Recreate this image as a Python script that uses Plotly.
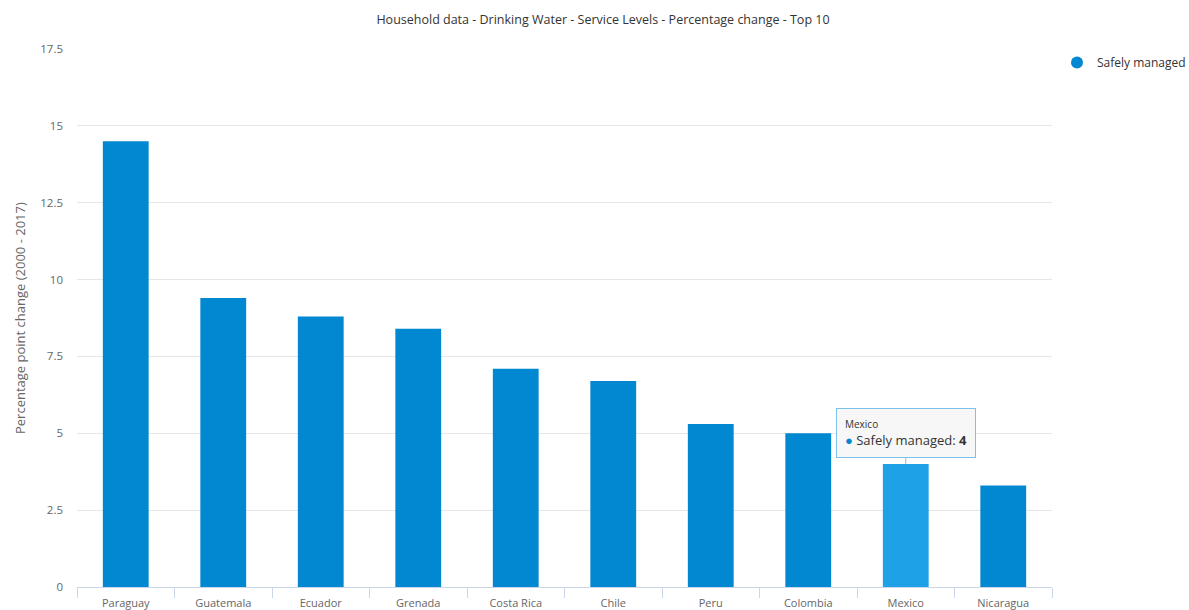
import plotly.graph_objects as go

countries = ["Paraguay", "Guatemala", "Ecuador", "Grenada", "Costa Rica",
             "Chile", "Peru", "Colombia", "Mexico", "Nicaragua"]
safely_managed = [14.5, 9.4, 8.8, 8.4, 7.1, 6.7, 5.3, 5.0, 4, 3.3]
y_ticks = [0, 2.5, 5, 7.5, 10, 12.5, 15, 17.5]
y_tick_labels = ["0", "2.5", "5", "7.5", "10", "12.5", "15", "17.5"]
y_title = "Percentage point change (2000 - 2017)"
highlight = "Mexico"

base_color = "#0288d1"
hover_color = "#1fa1e8"
bar_colors = [hover_color if c == highlight else base_color for c in countries]

FONT = "Open Sans, Noto Sans, sans-serif"
MARGIN_L, MARGIN_R = 77, 137
WIDTH = 1189
plot_w = WIDTH - MARGIN_L - MARGIN_R

fig = go.Figure()
fig.add_trace(go.Bar(
    x=countries, y=safely_managed, name="Safely managed",
    marker=dict(color=bar_colors, line=dict(width=0)),
    showlegend=False,
))
# legend entry with a round marker
fig.add_trace(go.Scatter(
    x=[None], y=[None], mode="markers", name="Safely managed",
    marker=dict(symbol="circle", size=12, color=base_color),
))

# hover-style tooltip on the highlighted bar
hi = countries.index(highlight)
fig.add_annotation(
    x=countries[hi], y=safely_managed[hi], xref="x", yref="y",
    text=("<span style='font-size:10px;color:#333'>Mexico</span><br>"
          f"<span style='color:{base_color}'>●</span> Safely managed: <b>{safely_managed[hi]:g}</b>"),
    showarrow=True, arrowhead=0, arrowwidth=1, arrowcolor="#7cc2ea",
    ax=0, ay=-6, yanchor="bottom", xanchor="center",
    align="left", bgcolor="rgba(247,247,247,0.95)", bordercolor="#7cc2ea",
    borderwidth=1, borderpad=8, font=dict(family=FONT, size=13, color="#333"),
)

# vertical y-axis title placed near the left edge
fig.add_annotation(
    text=y_title, textangle=-90, xref="paper", yref="paper",
    x=(20 - MARGIN_L) / plot_w, y=0.5, xanchor="center", yanchor="middle",
    showarrow=False, font=dict(family=FONT, size=13, color="#666"),
)

fig.update_layout(
    width=WIDTH, height=610,
    paper_bgcolor="white", plot_bgcolor="white",
    margin=dict(l=MARGIN_L, r=MARGIN_R, t=49, b=23, autoexpand=False),
    title=dict(text="Household data - Drinking Water - Service Levels - Percentage change - Top 10",
               xref="container", x=603 / WIDTH, xanchor="center", y=0.968, yanchor="middle",
               font=dict(family=FONT, size=12.5, color="#333")),
    bargap=0.53,
    font=dict(family=FONT, size=11, color="#666"),
    legend=dict(xref="container", yref="container", x=1057 / WIDTH, y=1 - 48 / 610,
                xanchor="left", yanchor="top", itemwidth=30,
                font=dict(family=FONT, size=12, color="#333"),
                bgcolor="rgba(0,0,0,0)"),
    xaxis=dict(type="category", tickson="boundaries", ticks="outside", ticklen=10,
               tickcolor="#ccd6eb", showline=True, linecolor="#ccd6eb", linewidth=1,
               showgrid=False, automargin=False, ticklabelstandoff=6,
               tickfont=dict(family=FONT, size=11, color="#666")),
    yaxis=dict(range=[0, 17.5], tickvals=y_ticks, ticktext=y_tick_labels,
               showgrid=True, gridcolor="#e6e6e6", zeroline=False, automargin=False,
               ticks="", ticklabelstandoff=13,
               tickfont=dict(family=FONT, size=11.5, color="#666")),
)

fig.write_html("out.html")
